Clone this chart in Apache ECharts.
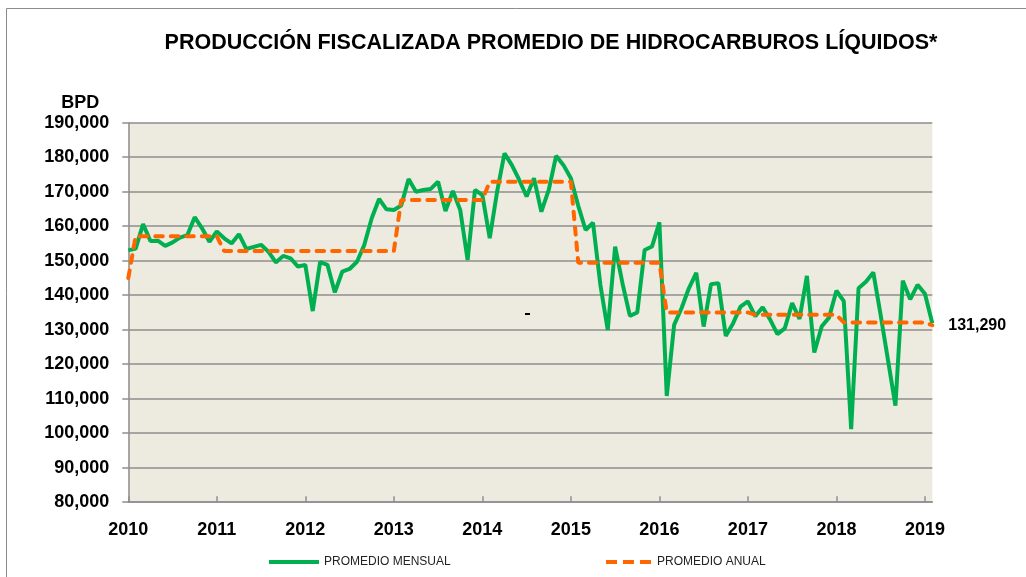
<!DOCTYPE html>
<html lang="es">
  <head>
    <meta charset="UTF-8" />
    <title>Producción fiscalizada</title>
    <script src="https://cdn.jsdelivr.net/npm/echarts@6/dist/echarts.min.js"></script>
    <style>
      html, body { margin: 0; padding: 0; background: #fff; }
      #main { width: 1026px; height: 577px; }
    </style>
  </head>
  <body>
    <div id="main"></div>
    <script type="text/javascript">
      // años del eje
      var years = [2010, 2011, 2012, 2013, 2014, 2015, 2016, 2017, 2018, 2019];

      // promedio mensual (BPD), ene-2010 .. feb-2019
      var mensual = [
        153000, 153500, 160600, 155700, 155800, 154300, 155300, 156700, 157400, 162600, 159400, 155500,
        158500, 156500, 155000, 157700, 153400, 154000, 154600, 152600, 149500, 151400, 150700, 148300,
        148800, 135400, 149600, 148800, 140800, 146800, 147600, 149700, 154600, 162300, 167900, 164900,
        164700, 166000, 173700, 170000, 170500, 170800, 172900, 164400, 170200, 164700, 150200, 170500,
        169000, 156500, 170000, 181100, 177700, 173400, 168600, 173900, 164200, 170500, 180400, 177700,
        173900, 165900, 158900, 161000, 143000, 129900, 154100, 143400, 134000, 135000, 153100, 154100,
        161100, 110800, 131400, 136200, 142000, 146500, 130900, 143200, 143500, 128200, 131900, 136700,
        138200, 133900, 136500, 133000, 128700, 130400, 137700, 133100, 145600, 123400, 130900, 133500,
        141300, 138300, 101200, 142000, 143900, 146600, 134200, 121100, 108000, 144200, 138800, 143000,
        140400, 131900
      ];

      // promedio anual (BPD), mismo periodo
      var anual = [
        145000, 157100, 157100, 157100, 157100, 157100, 157100, 157100, 157100, 157100, 157100, 157100,
        157100, 152800, 152800, 152800, 152800, 152800, 152800, 152800, 152800, 152800, 152800, 152800,
        152800, 152800, 152800, 152800, 152800, 152800, 152800, 152800, 152800, 152800, 152800, 152800,
        152800, 167600, 167600, 167600, 167600, 167600, 167600, 167600, 167600, 167600, 167600, 167600,
        167600, 172900, 172900, 172900, 172900, 172900, 172900, 172900, 172900, 172900, 172900, 172900,
        172900, 149400, 149400, 149400, 149400, 149400, 149400, 149400, 149400, 149400, 149400, 149400,
        149400, 135000, 135000, 135000, 135000, 135000, 135000, 135000, 135000, 135000, 135000, 135000,
        135000, 134300, 134300, 134300, 134300, 134300, 134300, 134300, 134300, 134300, 134300, 134300,
        134300, 132100, 132100, 132100, 132100, 132100, 132100, 132100, 132100, 132100, 132100, 132100,
        132100, 131290
      ];

      var months = [];
      for (var i = 0; i < mensual.length; i++) {
        months.push(years[0] + Math.floor(i / 12) + "-" + ((i % 12) + 1));
      }

      var FONT = "Liberation Sans, Arial, sans-serif";
      var myChart = echarts.init(document.getElementById("main"));

      const option = {
        animation: false,
        backgroundColor: "#ffffff",
        textStyle: { fontFamily: FONT },
        title: {
          text: "PRODUCCIÓN FISCALIZADA PROMEDIO DE HIDROCARBUROS LÍQUIDOS*",
          left: 551,
          top: 32,
          textAlign: "center",
          padding: 0,
          textStyle: {
            fontFamily: FONT,
            fontSize: 21.5,
            fontWeight: "bold",
            color: "#000",
          },
        },
        legend: [
          {
            data: ["PROMEDIO MENSUAL"],
            left: 267,
            top: 556,
            itemWidth: 50,
            itemHeight: 12,
            padding: 0,
            itemStyle: { opacity: 0 },
            lineStyle: { width: 4 },
            textStyle: { fontFamily: FONT, fontSize: 12, color: "#222" },
          },
          {
            data: ["PROMEDIO ANUAL"],
            left: 604,
            top: 556,
            itemWidth: 46,
            itemHeight: 12,
            padding: 0,
            itemStyle: { opacity: 0 },
            lineStyle: { width: 4, type: [11, 6], cap: "butt" },
            textStyle: { fontFamily: FONT, fontSize: 12, color: "#222" },
          },
        ],
        grid: {
          left: 128.3,
          right: 93.7,
          top: 122.7,
          bottom: 74.8,
          show: true,
          backgroundColor: "#EDEAE0",
          borderWidth: 0,
        },
        xAxis: {
          type: "category",
          data: months,
          boundaryGap: false,
          axisLine: { lineStyle: { color: "#8e8e8e", width: 1.5 } },
          axisTick: {
            inside: true,
            length: 6,
            interval: function (idx) {
              return idx % 12 === 0;
            },
            lineStyle: { color: "#8e8e8e", width: 1.5 },
          },
          axisLabel: {
            margin: 19,
            fontFamily: FONT,
            fontSize: 18,
            fontWeight: "bold",
            color: "#000",
            interval: function (idx) {
              return idx % 12 === 0;
            },
            formatter: function (val) {
              return val.split("-")[0];
            },
          },
          splitLine: { show: false },
        },
        yAxis: {
          type: "value",
          min: 80000,
          max: 190000,
          interval: 10000,
          name: "BPD",
          nameLocation: "end",
          nameGap: 11,
          nameTextStyle: {
            fontFamily: FONT,
            fontSize: 18,
            fontWeight: "bold",
            color: "#000",
            align: "right",
            padding: [0, 29, 0, 0],
          },
          axisLine: { show: true, lineStyle: { color: "#8e8e8e", width: 1.5 } },
          axisTick: { show: true, length: 6, lineStyle: { color: "#8e8e8e", width: 1.5 } },
          axisLabel: {
            margin: 19,
            fontFamily: FONT,
            fontSize: 18,
            fontWeight: "bold",
            color: "#000",
            formatter: function (v) {
              return v.toLocaleString("en-US");
            },
          },
          splitLine: { lineStyle: { color: "#8e8e8e", width: 1.5 } },
        },
        series: [
          {
            name: "PROMEDIO MENSUAL",
            type: "line",
            data: mensual,
            symbol: "none",
            color: "#00B050",
            lineStyle: { color: "#00B050", width: 4 },
            z: 2,
          },
          {
            name: "PROMEDIO ANUAL",
            type: "line",
            data: anual,
            symbol: "none",
            color: "#FF6600",
            lineStyle: {
              color: "#FF6600",
              width: 4,
              type: [7.5, 8],
              cap: "round",
            },
            endLabel: {
              show: true,
              distance: 16,
              fontFamily: FONT,
              fontSize: 16,
              fontWeight: "bold",
              color: "#000",
              formatter: function (p) {
                return p.value.toLocaleString("en-US");
              },
            },
            z: 3,
          },
        ],
        graphic: [
          {
            type: "rect",
            shape: { x: 6.5, y: 8.5, width: 1100, height: 700 },
            style: { fill: "none", stroke: "#8c8c8c", lineWidth: 1 },
            silent: true,
          },
          {
            type: "rect",
            shape: { x: 525, y: 313, width: 5, height: 2 },
            style: { fill: "#000" },
            silent: true,
            z: 10,
          },
        ],
      };

      myChart.setOption(option);
      window.addEventListener("resize", function () {
        myChart.resize();
      });
    </script>
  </body>
</html>
